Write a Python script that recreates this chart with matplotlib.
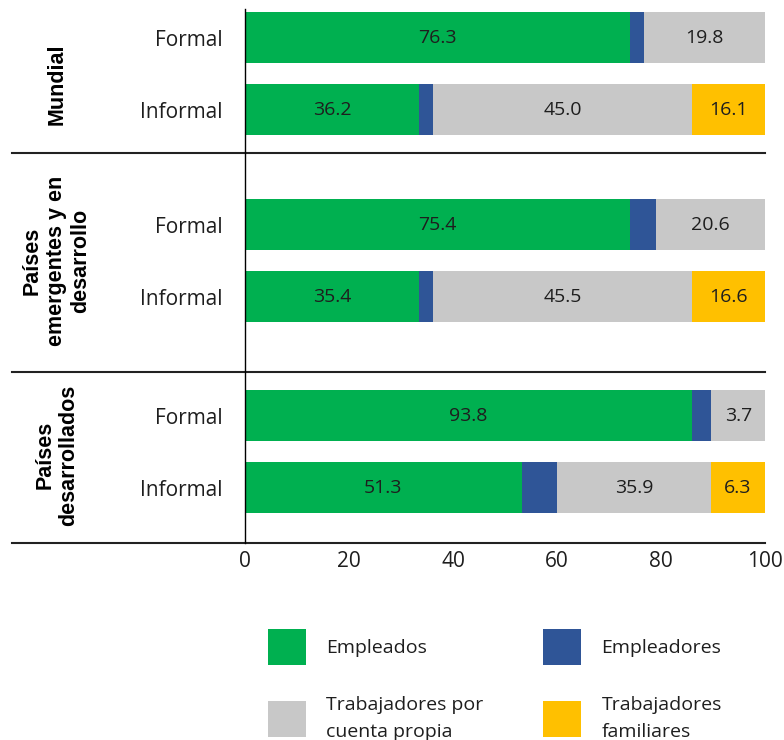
import matplotlib
matplotlib.use("Agg")
import matplotlib.pyplot as plt
from matplotlib.patches import Patch

# bar rows, top to bottom
rows = ['Formal', 'Informal', 'Formal', 'Informal', 'Formal', 'Informal']
groups = ['Mundial', 'Países\nemergentes y en\ndesarrollo', 'Países\ndesarrollados']

# segment widths as drawn
empleados = [74.0, 33.5, 74.0, 33.5, 86.0, 53.2]
empleadores = [2.7, 2.7, 5.1, 2.7, 3.7, 6.8]
cuenta_propia = [23.3, 49.8, 20.9, 49.8, 10.3, 29.6]
familiares = [0.0, 14.0, 0.0, 14.0, 0.0, 10.4]

# values printed on the bars
txt_empleados = ['76.3', '36.2', '75.4', '35.4', '93.8', '51.3']
txt_cuenta_propia = ['19.8', '45.0', '20.6', '45.5', '3.7', '35.9']
txt_familiares = ['', '16.1', '', '16.6', '', '6.3']

series_names = ['Empleados', 'Empleadores', 'Trabajadores por\ncuenta propia',
                'Trabajadores\nfamiliares']
colors = ['#00B050', '#2F5597', '#C8C8C8', '#FFC000']

plt.rcParams['font.family'] = ['Open Sans', 'DejaVu Sans']

ypos = [0, 1, 2.6, 3.6, 5.25, 6.25]
group_y = [0.65, 3.1, 5.8]
separators = [1.6, 4.65, 7.02]

fig = plt.figure(figsize=(7.84, 7.4), dpi=100)
ax = fig.add_axes([245 / 784, 1 - 543 / 740, 520 / 784, 534.3 / 740])

left = [0.0] * len(rows)
values = [empleados, empleadores, cuenta_propia, familiares]
texts = [txt_empleados, None, txt_cuenta_propia, txt_familiares]
for vals, col, txt in zip(values, colors, texts):
    ax.barh(ypos, vals, left=left, height=0.71, color=col, edgecolor='none')
    if txt is not None:
        for i in range(len(rows)):
            if txt[i]:
                ax.text(left[i] + vals[i] / 2, ypos[i], txt[i], ha='center', va='center',
                        fontsize=14, color='#1e1e1e')
    left = [l + v for l, v in zip(left, vals)]

ax.set_xlim(0, 100)
ax.set_ylim(7.02, -0.4)
ax.set_xticks(range(0, 101, 20))
ax.set_yticks(ypos)
ax.set_yticklabels(rows)
ax.tick_params(axis='x', length=0, pad=6, labelsize=15, colors='#1e1e1e')
ax.tick_params(axis='y', length=0, pad=16, labelsize=15, colors='#1e1e1e')

for s in ['top', 'right', 'bottom']:
    ax.spines[s].set_visible(False)
ax.spines['left'].set_color('black')
ax.spines['left'].set_linewidth(1.0)

for y in separators:
    ax.axhline(y, xmin=-0.448, xmax=1, color='#222222', lw=1.5, clip_on=False)

for g, y in zip(groups, group_y):
    ax.text(-0.362, y, g, transform=ax.get_yaxis_transform(), rotation=90,
            ha='center', va='center', multialignment='center', fontsize=15.5,
            fontweight='bold', family='Liberation Sans', color='black')

order = [0, 2, 1, 3]
handles = [Patch(facecolor=colors[i], edgecolor='none') for i in order]
labels = [series_names[i] for i in order]
leg = fig.legend(handles, labels, ncol=2, loc='upper left',
                 bbox_to_anchor=(268 / 784, 1 - 629 / 740),
                 frameon=False, fontsize=14, borderpad=0, borderaxespad=0,
                 handlelength=1.95, handleheight=2.47, handletextpad=1.03,
                 columnspacing=3.1, labelspacing=1.6, labelcolor='#1e1e1e')
for t in leg.get_texts():
    t.set_linespacing(1.62)

fig.savefig('out.png', dpi=100, facecolor='white')
